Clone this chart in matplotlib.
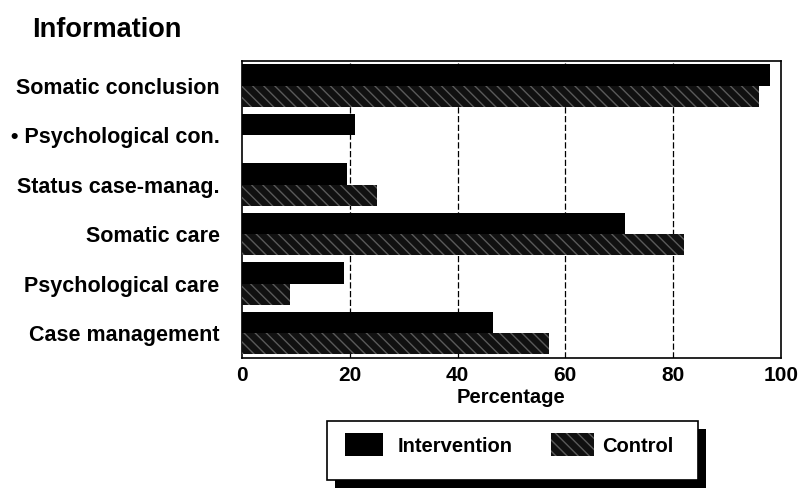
import matplotlib
matplotlib.use("Agg")
import matplotlib.pyplot as plt
import numpy as np
from matplotlib.patches import Rectangle

categories = ["Somatic conclusion", "\u2022 Psychological con.", "Status case-manag.",
              "Somatic care", "Psychological care", "Case management"]
intervention = [98, 21, 19.5, 71, 19, 46.5]
control = [96, 0, 25, 82, 9, 57]
xticks = [0, 20, 40, 60, 80, 100]

plt.rcParams['font.family'] = ['Liberation Sans', 'DejaVu Sans']
plt.rcParams['font.weight'] = 'bold'
plt.rcParams['hatch.linewidth'] = 1.0

fig = plt.figure(figsize=(8.01, 4.91), dpi=100)
ax = fig.add_axes([0.302, 0.271, 0.673, 0.605])

y = np.arange(len(categories))
h = 0.43
hatch_col = '#5a5a5a'
ax.barh(y - h / 2, intervention, height=h, color='black', zorder=3)
ax.barh(y + h / 2, control, height=h, color='#111111', edgecolor=hatch_col,
        linewidth=0, hatch='\\\\\\', zorder=3)

ax.set_ylim(len(categories) - 0.5, -0.5)
ax.set_xlim(0, 100)
ax.set_xticks(xticks)
ax.set_xticklabels([str(t) for t in xticks], fontsize=15, fontweight='bold')
ax.set_yticks(y)
ax.set_yticklabels(categories, fontsize=15.5, fontweight='bold')
ax.tick_params(axis='y', length=0, pad=16)
ax.tick_params(axis='x', length=0, pad=6)
for g in xticks[1:-1]:
    ax.axvline(g, color='black', linewidth=0.9, linestyle=(0, (5, 2)), zorder=1)
for s in ax.spines.values():
    s.set_linewidth(1.2)
ax.set_xlabel("Percentage", fontsize=14.5, fontweight='bold', labelpad=2)

fig.text(0.04, 0.939, "Information", fontsize=19.5, fontweight='bold', va='center', ha='left')

# legend box with shadow (figure coordinates)
W, H = 801, 491
def fx(px):
    return px / W
def fy(py):
    return 1 - py / H

bx0, bx1, by0, by1 = 327, 698, 421, 480
fig.patches.append(Rectangle((fx(bx0 + 8), fy(by1 + 8)), fx(bx1 - bx0), (by1 - by0) / H,
                             transform=fig.transFigure, facecolor='black', edgecolor='none', zorder=1))
fig.patches.append(Rectangle((fx(bx0), fy(by1)), fx(bx1 - bx0), (by1 - by0) / H,
                             transform=fig.transFigure, facecolor='white', edgecolor='black',
                             linewidth=1.2, zorder=2))
fig.patches.append(Rectangle((fx(345), fy(456)), fx(383 - 345), (456 - 433) / H,
                             transform=fig.transFigure, facecolor='black', edgecolor='none', zorder=3))
fig.patches.append(Rectangle((fx(551), fy(456)), fx(594 - 551), (456 - 433) / H,
                             transform=fig.transFigure, facecolor='#111111', edgecolor=hatch_col,
                             linewidth=0, hatch='\\\\\\', zorder=3))
fig.text(fx(398), fy(446), "Intervention", fontsize=14.5, fontweight='bold', va='center', ha='left', zorder=4)
fig.text(fx(602), fy(446), "Control", fontsize=14.5, fontweight='bold', va='center', ha='left', zorder=4)

fig.savefig("out.png", dpi=100)
